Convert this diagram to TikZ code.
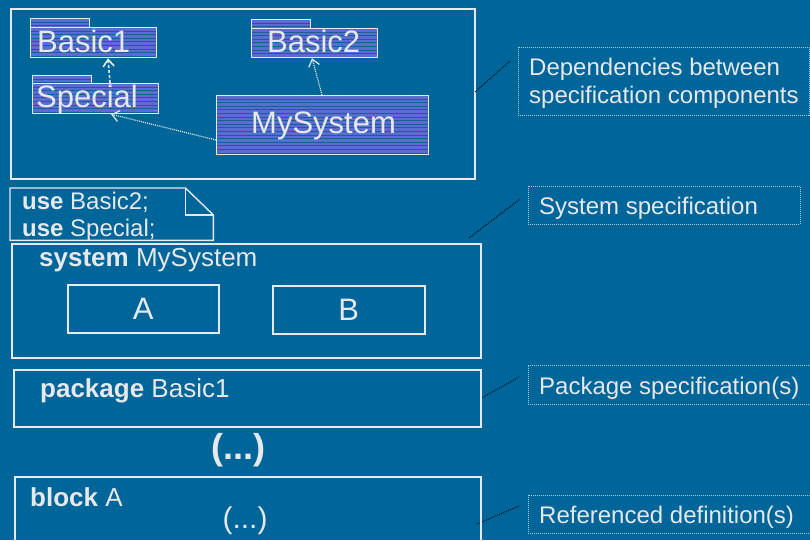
\documentclass[tikz,border=0pt]{standalone}
\usepackage{fontspec}
\setmainfont{Liberation Sans}
\usetikzlibrary{arrows.meta}
\definecolor{bg}{RGB}{0,102,153}
\definecolor{fg}{RGB}{230,232,235}
\definecolor{pkgfill}{RGB}{90,108,212}
\definecolor{stripecol}{RGB}{25,95,145}
\definecolor{thin}{RGB}{170,200,220}
\tikzset{
  stripes/.style={path picture={
    \foreach \k in {1,...,20}{
      \draw[stripecol, line width=1pt] ([yshift=-\k*3.6pt]path picture bounding box.north west) -- ++(300pt,0);
    }}},
  pkg/.style={draw=fg, line width=1.2pt, fill=pkgfill, stripes, anchor=north west, inner sep=0pt},
  frame/.style={draw=fg, line width=1.6pt, anchor=north west, inner sep=0pt},
  callbox/.style={draw=thin, line width=0.8pt, dash pattern=on 1pt off 1pt, anchor=north west, inner sep=0pt},
  leader/.style={thin, line width=0.8pt, dash pattern=on 1pt off 1pt},
  dep/.style={fg, line width=1.2pt, dash pattern=on 1pt off 1pt, -{Straight Barb[length=7pt,width=11pt]}},
  depdash/.style={fg, line width=1.6pt, dash pattern=on 3pt off 2pt, -{Straight Barb[length=7pt,width=11pt]}},
  txt/.style={text=fg, inner sep=0pt, anchor=base west},
  big/.style={font=\fontsize{31}{36}\selectfont},
  mid/.style={font=\fontsize{26}{30}\selectfont},
  small/.style={font=\fontsize{24}{28}\selectfont},
}
\begin{document}
\begin{tikzpicture}[x=1pt,y=-1pt]
\useasboundingbox (0,0) rectangle (810,540);
\fill[bg] (0,0) rectangle (810,540);
\clip (0,0) rectangle (810,540);

% ---------- dependency diagram ----------
\node[frame, minimum width=464pt, minimum height=170pt] (top) at (10,8) {};

\node[pkg, minimum width=59pt, minimum height=10pt] (b1tab) at (30,18) {};
\node[pkg, minimum width=126pt, minimum height=30pt] (b1) at (30,27) {};
\node[txt, big] (b1t) at (37,53) {Basic1};

\node[pkg, minimum width=59pt, minimum height=10pt] (b2tab) at (251,19) {};
\node[pkg, minimum width=126pt, minimum height=29pt] (b2) at (251,28) {};
\node[txt, big] (b2t) at (267,53) {Basic2};

\node[pkg, minimum width=59pt, minimum height=9pt] (sptab) at (32,75) {};
\node[pkg, minimum width=126pt, minimum height=30pt] (sp) at (32,83) {};
\node[txt, big] (spt) at (36,108) {Special};

\node[pkg, minimum width=212pt, minimum height=59pt] (my) at (216,95) {};
\node[txt, big] (myt) at (251,134) {MySystem};

\draw[depdash] ([xshift=78pt]sp.north west) -- ([xshift=78pt]b1.south west);
\draw[dep] ([xshift=106pt]my.north west) -- ([xshift=61pt]b2.south west);
\draw[dep] ([yshift=-45pt]my.north west) -- ([xshift=79pt]sp.south west);

% ---------- callouts ----------
\node[callbox, minimum width=291pt, minimum height=68pt] (c1) at (518,47) {};
\node[txt, small] (c1a) at (529,76) {Dependencies between};
\node[txt, small] (c1b) at (529,104) {specification components};
\coordinate (l1a) at (475,92);
\coordinate (l1b) at (510,61);
\draw[leader] (l1a) -- (l1b);

\node[callbox, minimum width=272pt, minimum height=38pt] (c2) at (528,186) {};
\node[txt, small] (c2t) at (539,214) {System specification};
\coordinate (l2a) at (469,238);
\coordinate (l2b) at (520,199);
\draw[leader] (l2a) -- (l2b);

\node[callbox, minimum width=290pt, minimum height=39pt] (c3) at (528,365) {};
\node[txt, small] (c3t) at (539,394) {Package specification(s)};
\coordinate (l3a) at (480,399);
\coordinate (l3b) at (519,377);
\draw[leader] (l3a) -- (l3b);

\node[callbox, minimum width=290pt, minimum height=38pt] (c4) at (528,495) {};
\node[txt, small] (c4t) at (539,523) {Referenced definition(s)};
\coordinate (l4a) at (477,524);
\coordinate (l4b) at (519,506);
\draw[leader] (l4a) -- (l4b);

% ---------- note ----------
\node[anchor=north west, inner sep=0pt, minimum width=203pt, minimum height=52pt] (note) at (10,188) {};
\draw[fg, line width=1.4pt, line join=miter]
  (note.north west) -- ([xshift=-28pt]note.north east) -- ([yshift=-27pt]note.north east)
  -- (note.south east) -- (note.south west) -- cycle;
\draw[fg, line width=1.4pt] ([xshift=-28pt]note.north east) |- ([yshift=-27pt]note.north east);
\node[txt, small] (u1) at (22,209) {\textbf{use} Basic2;};
\node[txt, small] (u2) at (22,236) {\textbf{use} Special;};

% ---------- system ----------
\node[frame, minimum width=469pt, minimum height=114pt] (sys) at (11,243) {};
\node[txt, mid] (syst) at (39,266) {\textbf{system} MySystem};
\node[frame, minimum width=151pt, minimum height=48pt, text=fg, big] (A) at (67,284) {A};
\node[frame, minimum width=152pt, minimum height=48pt, text=fg, big] (B) at (272,285) {B};

% ---------- package ----------
\node[frame, minimum width=467pt, minimum height=57pt] (pk) at (13,369) {};
\node[txt, mid] (pkt) at (40,397) {\textbf{package} Basic1};
\node[text=fg, inner sep=0pt, font=\fontsize{36}{40}\selectfont\bfseries] (dots1) at (238,450) {(...)};

% ---------- block ----------
\node[frame, minimum width=466pt, minimum height=80pt] (blk) at (14,476) {};
\node[txt, mid] (blkt) at (30,506) {\textbf{block} A};
\node[text=fg, inner sep=0pt, font=\fontsize{30}{34}\selectfont] (dots2) at (245,521) {(...)};
\end{tikzpicture}
\end{document}
